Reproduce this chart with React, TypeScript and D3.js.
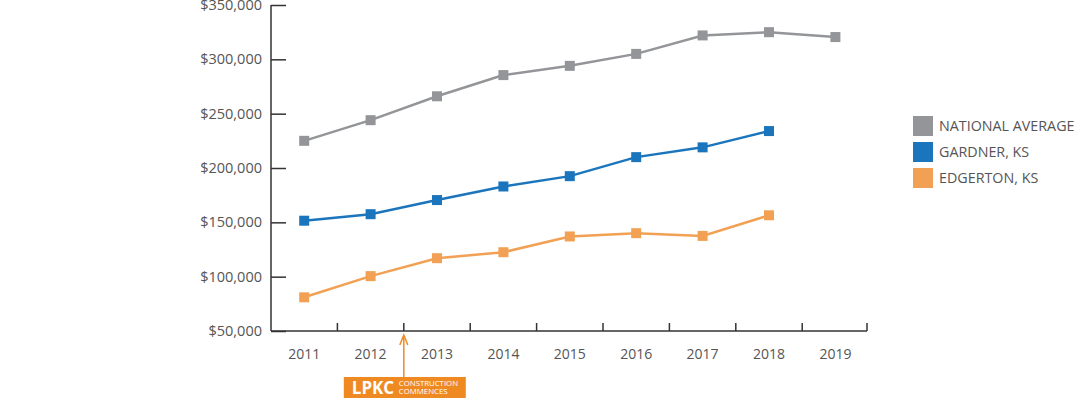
import React, { useEffect, useRef } from "react";
import * as d3 from "d3";

const years = ["2011", "2012", "2013", "2014", "2015", "2016", "2017", "2018", "2019"];
const nationalAverage = [225000, 244000, 266000, 285500, 294000, 305000, 322000, 325000, 320500];
const gardner = [151500, 157500, 170500, 183000, 192500, 210000, 219000, 234000];
const edgerton = [81000, 100500, 117000, 122500, 137000, 140000, 137500, 156500];
const yTicks = [50000, 100000, 150000, 200000, 250000, 300000, 350000];

const seriesNames = ["NATIONAL AVERAGE", "GARDNER, KS", "EDGERTON, KS"];
const seriesColors = ["#939598", "#1b75bc", "#f2a154"];

const App: React.FC = () => {
  const svgRef = useRef<SVGSVGElement | null>(null);

  useEffect(() => {
    const svg = d3.select(svgRef.current);
    svg.selectAll("*").remove();

    const left = 271;
    const right = 867;
    const top = 5;
    const bottom = 331;
    const textColor = "#555555";
    const font = "'Open Sans', 'Noto Sans', sans-serif";

    const x = d3.scaleBand<string>().domain(years).range([left, left + 66.4 * years.length]);
    const y = d3.scaleLinear().domain([50000, 350000]).range([bottom, top]);

    // Y axis: ticks point inward
    const yAxis = svg
      .append("g")
      .attr("transform", `translate(${left},0)`)
      .call(
        d3
          .axisRight(y)
          .tickValues(yTicks)
          .tickSize(15)
          .tickFormat(() => "")
      );
    yAxis.select(".domain").attr("stroke", "#333").attr("stroke-width", 1.5).attr("d", `M0,${top}V${bottom}`);
    yAxis.selectAll(".tick line").attr("stroke", "#333").attr("stroke-width", 1.5);

    svg
      .append("g")
      .selectAll("text")
      .data(yTicks)
      .enter()
      .append("text")
      .attr("x", left - 9)
      .attr("y", (d) => y(d))
      .attr("dy", "0.35em")
      .attr("text-anchor", "end")
      .attr("fill", textColor)
      .style("font-family", font)
      .style("font-size", "14.5px")
      .text((d) => "$" + d3.format(",")(d));

    // X axis: ticks at band boundaries, pointing up
    const bounds = years.slice(1).map((yr) => x(yr)!);
    svg
      .append("line")
      .attr("x1", left)
      .attr("x2", right)
      .attr("y1", bottom)
      .attr("y2", bottom)
      .attr("stroke", "#333")
      .attr("stroke-width", 1.5);
    svg
      .append("g")
      .selectAll("line")
      .data([...bounds, right])
      .enter()
      .append("line")
      .attr("x1", (d) => d)
      .attr("x2", (d) => d)
      .attr("y1", bottom)
      .attr("y2", bottom - 8)
      .attr("stroke", "#333")
      .attr("stroke-width", 1.5);

    svg
      .append("g")
      .selectAll("text")
      .data(years)
      .enter()
      .append("text")
      .attr("x", (d) => x(d)! + x.bandwidth() / 2)
      .attr("y", 359)
      .attr("text-anchor", "middle")
      .attr("fill", textColor)
      .style("font-family", font)
      .style("font-size", "14px")
      .text((d) => d);

    // Lines
    const allSeries = [nationalAverage, gardner, edgerton];
    const line = d3
      .line<number>()
      .x((_, i) => x(years[i])! + x.bandwidth() / 2)
      .y((d) => y(d));

    allSeries.forEach((vals, si) => {
      svg
        .append("path")
        .attr("d", line(vals)!)
        .attr("fill", "none")
        .attr("stroke", seriesColors[si])
        .attr("stroke-width", 2.5);
      svg
        .append("g")
        .selectAll("rect")
        .data(vals)
        .enter()
        .append("rect")
        .attr("x", (_, i) => x(years[i])! + x.bandwidth() / 2 - 5)
        .attr("y", (d) => y(d) - 5)
        .attr("width", 10)
        .attr("height", 10)
        .attr("fill", seriesColors[si]);
    });

    // Legend
    const legend = svg.append("g").attr("transform", "translate(913,116)");
    seriesNames.forEach((name, i) => {
      const row = legend.append("g").attr("transform", `translate(0,${i * 26})`);
      row.append("rect").attr("width", 20).attr("height", 20).attr("fill", seriesColors[i]);
      row
        .append("text")
        .attr("x", 26)
        .attr("y", 10)
        .attr("dy", "0.35em")
        .attr("fill", textColor)
        .style("font-family", font)
        .style("font-size", "14.3px")
        .text(name);
    });

    // LPKC annotation between 2012 and 2013
    const ax = x("2013")!;
    const orange = "#ef8a22";
    svg
      .append("line")
      .attr("x1", ax)
      .attr("x2", ax)
      .attr("y1", 336)
      .attr("y2", 377)
      .attr("stroke", orange)
      .attr("stroke-width", 1.5);
    svg
      .append("path")
      .attr("d", `M${ax - 4},${345} L${ax},${335} L${ax + 4},${345}`)
      .attr("fill", "none")
      .attr("stroke", orange)
      .attr("stroke-width", 1.5);
    svg
      .append("rect")
      .attr("x", ax - 60)
      .attr("y", 377)
      .attr("width", 122)
      .attr("height", 21)
      .attr("fill", orange);
    svg
      .append("text")
      .attr("x", ax - 52)
      .attr("y", 394)
      .attr("fill", "#fff")
      .style("font-family", font)
      .style("font-weight", 700)
      .style("font-size", "17px")
      .text("LPKC");
    svg
      .append("text")
      .attr("x", ax - 5)
      .attr("y", 386)
      .attr("fill", "#fff")
      .style("font-family", font)
      .style("font-size", "7.8px")
      .text("CONSTRUCTION");
    svg
      .append("text")
      .attr("x", ax - 5)
      .attr("y", 394)
      .attr("fill", "#fff")
      .style("font-family", font)
      .style("font-size", "7.8px")
      .text("COMMENCES");
  }, []);

  return (
    <svg
      ref={svgRef}
      width={1074}
      height={398}
      style={{ position: "absolute", left: 0, top: 0, background: "#fff" }}
    />
  );
};

export default App;
